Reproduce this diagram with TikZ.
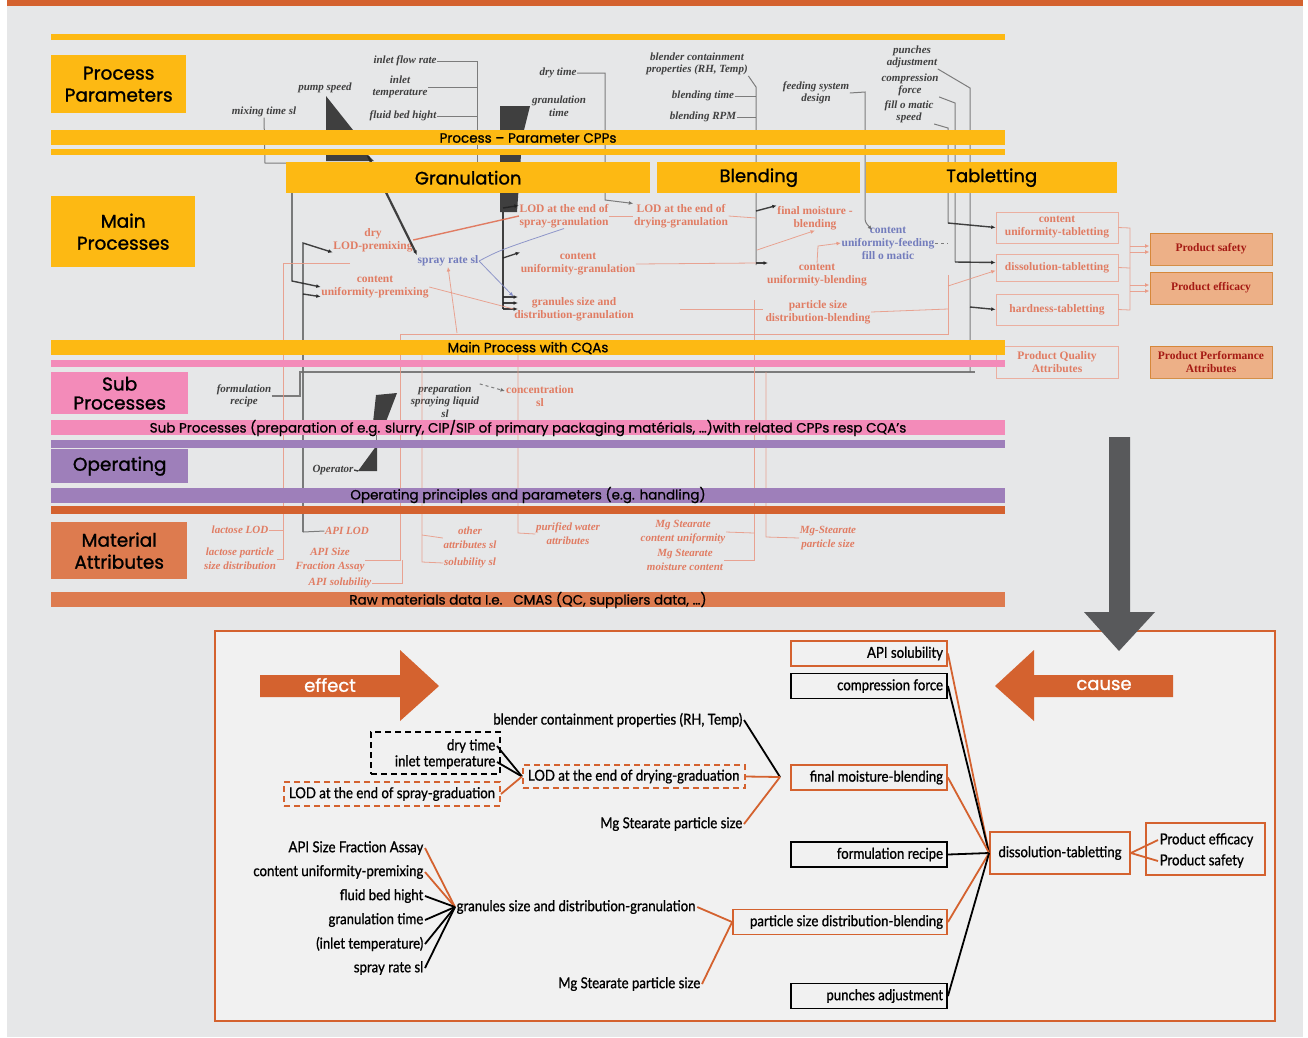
\documentclass[tikz,border=0pt]{standalone}
\usepackage{fontspec}
\setmainfont{Lato}
\newfontfamily\lab[FakeBold=1.2]{Poppins}
\newfontfamily\bandf[FakeBold=0.8]{Poppins}
\newfontfamily\nar[FakeStretch=0.88,FakeBold=1.0]{Lato}
\newfontfamily\scan{Liberation Serif}
\usetikzlibrary{arrows.meta,calc}
\definecolor{pagegray}{HTML}{E6E7E8}
\definecolor{ylw}{HTML}{FDB913}
\definecolor{pnk}{HTML}{F38BB9}
\definecolor{prp}{HTML}{9E7FBA}
\definecolor{orD}{HTML}{D4622F}
\definecolor{orL}{HTML}{DD7B4F}
\definecolor{agray}{HTML}{58595B}
\definecolor{panel}{HTML}{F1F1F1}
\definecolor{sred}{HTML}{E06A4C}
\definecolor{sblue}{HTML}{5F6AB5}
\definecolor{sblk}{HTML}{222222}
\definecolor{sline}{HTML}{6A6A6A}
\definecolor{pfill}{HTML}{EFA777}
\begin{document}
\begin{tikzpicture}[x=1pt,y=-1pt,
  cat/.style={fill=#1, inner sep=0pt, align=center, anchor=north west,
    font=\lab\fontsize{18.5}{22}\selectfont},
  bandtext/.style={inner sep=0pt, font=\bandf\fontsize{13.5}{15}\selectfont},
  st/.style={inner sep=0.5pt, align=center, text=sblk,
    font=\scan\bfseries\itshape\fontsize{11}{12.5}\selectfont},
  sr/.style={inner sep=0.5pt, align=center, text=sred,
    font=\scan\bfseries\fontsize{11.5}{13}\selectfont},
  sri/.style={inner sep=0.5pt, align=center, text=sred,
    font=\scan\bfseries\itshape\fontsize{11}{14}\selectfont},
  sb/.style={sr, text=sblue},
  sbox/.style={sr, draw=sred!60, line width=0.6pt, minimum width=122pt},
  pbox/.style={sr, fill=pfill, draw=brown!70!orange, line width=1pt,
    minimum width=122pt, text=red!60!black},
  sl/.style={draw=sline, line width=1pt},
  slk/.style={draw=sblk, line width=1.4pt},
  srl/.style={draw=sred!70, line width=0.8pt},
  sarr/.style={-{Latex[length=4.5pt,width=4pt]}},
  bt/.style={inner sep=1.5pt, font=\nar\fontsize{15}{17}\selectfont},
  obox/.style={bt, draw=orD, line width=1.8pt, minimum height=25pt,
    inner xsep=4pt, inner ysep=0pt, text width=148pt, align=flush right},
  kbox/.style={obox, draw=black},
  dbox/.style={bt, draw=#1, line width=2pt, dash pattern=on 6pt off 4pt},
  ol/.style={draw=orD, line width=1.8pt},
  kl/.style={draw=black, line width=1.8pt},
  bigarrow/.style={fill=orD},
  arrowtext/.style={text=white, font=\lab\fontsize{18}{20}\selectfont}
]
\useasboundingbox (0,0) rectangle (1308,1037);
\fill[white] (0,0) rectangle (1308,1037);
\fill[pagegray] (7,0) rectangle (1303,1037);
\fill[orD] (7,0) rectangle (1303,6);

% ---------------- process map (scanned flow chart) ----------------
\begin{scope}[opacity=0.85]
% process parameters
\node[st] (sIfr) at (405,61) {inlet flow rate};
\node[st] (sIt) at (400,87) {inlet\\temperature};
\node[st] (sPs) at (325,88) {pump speed};
\node[st] (sMt) at (264,112) {mixing time sl};
\node[st] (sFb) at (403,116) {fluid bed hight};
\node[st] (sDt) at (558,73) {dry time};
\node[st] (sGt) at (559,106) {granulation\\time};
\node[st] (sBc) at (697,64) {blender containment\\properties (RH, Temp)};
\node[st] (sBt) at (703,96) {blending time};
\node[st] (sBr) at (703,117) {blending RPM};
\node[st] (sFs) at (816,93) {feeding system\\design};
\node[st] (sPa) at (912,57) {punches\\adjustment};
\node[st] (sCf) at (910,85) {compression\\force};
\node[st] (sFm) at (909,112) {fill o matic\\speed};

% main process quality attributes
\node[sr] (sDl) at (373,240) {dry\\LOD-premixing};
\node[sr] (sCp) at (375,287) {content\\uniformity-premixing};
\node[sb] (sSr) at (448,261) {spray rate sl};
\node[sr] (sLs) at (564,216) {LOD at the end of\\spray-granulation};
\node[sr] (sLd) at (681,216) {LOD at the end of\\drying-granulation};
\node[sr] (sCg) at (578,264) {content\\uniformity-granulation};
\node[sr] (sGs) at (574,309) {granules size and\\distribution-granulation};
\node[sr] (sFmb) at (815,218) {final moisture -\\blending};
\node[sb] (sCff) at (888,243) {content\\uniformity-feeding\\fill o matic};
\node[sr] (sCb) at (817,275) {content\\uniformity-blending};
\node[sr] (sPb) at (818,312) {particle size\\distribution-blending};
\node[sbox, minimum height=31pt] (tCu) at (1057,227.5) {content\\uniformity-tabletting};
\node[sbox, minimum height=27pt] (tDi) at (1057,267.5) {dissolution-tabletting};
\node[sbox, minimum height=31pt] (tHa) at (1057,309.5) {hardness-tabletting};
\node[sbox, minimum height=32pt] (tPq) at (1057,362) {Product Quality\\Attributes};
\node[pbox, minimum height=32pt] (pSa) at (1211,249) {Product safety};
\node[pbox, minimum height=32pt] (pEf) at (1211,288) {Product efficacy};
\node[pbox, minimum height=32pt] (pPp) at (1211,362) {Product Performance\\Attributes};

% sub processes and operating
\node[st] (sFr) at (244,396) {formulation\\recipe};
\node[st] (sPl) at (445,401) {preparation\\spraying liquid\\sl};
\node[sr] (sCs) at (540,396) {concentration\\sl};
\node[st] (sOp) at (333,470) {Operator};

% material attributes
\node[sri] (mLl) at (240,530) {lactose LOD};
\node[sri] (mLp) at (240,559) {lactose particle\\size distribution};
\node[sri] (mAl) at (347,531) {API LOD};
\node[sri] (mAs) at (330,560) {API Size\\Fraction Assay};
\node[sri] (mAu) at (340,583) {API solubility};
\node[sri] (mOa) at (470,538) {other\\attributes sl};
\node[sri] (mSs) at (470,563) {solubility sl};
\node[sri] (mPw) at (568,534) {purified water\\attributes};
\node[sri] (mMc) at (683,532) {Mg Stearate\\content uniformity};
\node[sri] (mMm) at (685,560) {Mg Stearate\\moisture content};
\node[sri] (mMp) at (828,538) {Mg-Stearate\\particle size};

% parameter traces
\draw[sl] (sIfr.east) -- (477,61) -- (477,165);
\draw[sl] (sIt.east) -- (477,87);
\draw[sl] (sFb.east) -- (477,116);
\draw[sl] (sMt.south) -- (265,163) -- (290,163);
\draw[slk, sarr] (292,190) -- (292,281) -- (sCp.west);
\draw[slk, sarr] (303,532) -- (303,243) -- (sDl.south west);
\draw[slk, sarr] (303,294) -- ($(sCp.south west)+(0,-2)$);
\draw[sl] (303,532) -- (mAl.west);
\fill[sblk] (326,96) -- (353,130) -- (326,130) -- cycle;
\fill[sblk] (326,153) -- (366,153) -- (374,161) -- (326,161) -- cycle;
\draw[draw=sblk, line width=2.2pt, sarr] (368,156) -- (sSr.north west);
\draw[sl, sarr] (sDt.east) -- (605,73) -- (605,200) -- (sLd.north west);
\fill[sblk] (500,106) -- (530,106) -- (524,130) -- (500,130) -- cycle;
\fill[sblk] (500,155) -- (521,155) -- (517,212) -- (500,212) -- cycle;
\draw[slk] (503,212) -- (503,309);
\draw[slk, sarr] (503,208) -- ($(sLs.north west)+(0,2)$);
\draw[slk, sarr] (503,258) -- (sCg.north west);
\draw[slk, sarr] (503,297) -- (518,297);
\draw[slk, sarr] (503,303) -- (518,303);
\draw[slk, sarr] (503,309) -- (518,309);
\draw[sl] (sBc.south east) -- (756,87) -- (756,265);
\draw[sl] (sBt.east) -- (756,96);
\draw[sl] (sBr.east) -- (756,117);
\draw[slk, sarr] (756,211) -- (sFmb.north west);
\draw[slk, sarr] (756,263) -- (768,263);
\draw[sl, sarr] (sFs.east) -- (865,92) -- (865,215) .. controls (865,222) .. (872,230);
\draw[sl] (sPa.south east) -- (970,88) -- (970,372);
\draw[sl] (sCf.south east) -- (955,103) -- (955,262);
\draw[sl] (sFm.south east) -- (948,128) -- (948,223);
\draw[slk, sarr] (948,223) -- (tCu.west);
\draw[slk, sarr] (955,262) -- ($(tDi.west)+(0,-5)$);
\draw[slk, sarr] (970,307) -- (tHa.west);
\draw[sl, line width=2.4pt] (sFr.east) -- (300,396) -- (300,372) -- (975,372);
\draw[sl, dashed, sarr] (sPl.north east) -- (505,391);
\fill[sblk] (376,395) -- (397,393) -- (382,432) -- (372,432) -- cycle;
\draw[sl] (376,432) -- (376,446);
\fill[sblk] (377,445) -- (377,471) -- (358,471) -- cycle;
\draw[slk] (sOp.east) -- (358,471);

% quality attribute traces
\draw[draw=sblue!80, line width=0.8pt] (sSr.east) .. controls (500,250) .. (sLs.south);
\draw[draw=sblue!80, line width=0.8pt, sarr] (sSr.east) -- (sGs.north west);
\draw[draw=sred, line width=1.4pt] (sDl.east) -- (sLs.west);
\draw[srl] (sCp.east) -- (sGs.west);
\draw[srl, sarr] (457,333) -- (sSr.south);
\draw[srl] (sLs.east) -- (sLd.west);
\draw[srl] (sLd.east) -- (756,218);
\draw[srl] (sCg.east) -- (756,263);
\draw[srl, sarr] (757,250) -- (sFmb.south);
\draw[srl, sarr] (sCb.north) -- (818,246) -- (sCff.west);
\draw[draw=sline, dashed, line width=0.7pt] (sCff.east) -- (948,243);
\draw[srl] (sPb.east) -- (948,309);
\draw[srl] (680,309) -- (763,309);
\draw[srl] (350,263) -- (283,263) -- (283,559) -- (mLp.east);
\draw[srl] (mLl.east) -- (283,530);
\draw[srl] (mAs.east) -- (400,560) -- (400,334) -- (948,334) -- (948,275);
\draw[srl, sarr] (948,286) -- ($(tDi.west)+(0,3)$);
\draw[srl] (mAu.east) -- (402,583) -- (402,560);
\draw[srl] (422,340) -- (422,562) -- (mSs.west);
\draw[srl] (422,535) -- (mOa.west);
\draw[srl] (518,345) -- (518,533) -- (mPw.west);
\draw[srl] (754,300) -- (754,560) -- (mMm.east);
\draw[srl] (754,533) -- (mMc.east);
\draw[srl] (766,372) -- (766,537) -- (mMp.west);
\draw[srl] (tCu.east) -- (1130,228) -- (1130,310) -- (tHa.east);
\draw[srl] (tDi.east) -- (1130,268);
\draw[srl, sarr] (1130,246) -- ($(pSa.west)+(0,-3)$);
\draw[srl, sarr] (1130,252) -- ($(pSa.west)+(0,3)$);
\draw[srl, sarr] (1130,285) -- ($(pEf.west)+(0,-3)$);
\draw[srl, sarr] (1130,291) -- ($(pEf.west)+(0,3)$);
\end{scope}

% ---------------- layer bands ----------------
\fill[ylw] (51,34) rectangle (1005,40);
\node[cat=ylw, minimum width=135pt, minimum height=58pt] (pp) at (51,55) {Process\\Parameters};
\fill[ylw] (51,130) rectangle (1005,145);
\node[bandtext] (cpp) at (528,138) {Process – Parameter CPPs};
\fill[ylw] (51,149) rectangle (1005,155);
\node[cat=ylw, minimum width=364pt, minimum height=31pt, font=\lab\fontsize{18}{20}\selectfont] (gran) at (286,162) {Granulation};
\node[cat=ylw, minimum width=203pt, minimum height=31pt, font=\lab\fontsize{18}{20}\selectfont] (blend) at (657,162) {Blending};
\node[cat=ylw, minimum width=251pt, minimum height=31pt, font=\lab\fontsize{18}{20}\selectfont] (tabl) at (866,162) {Tabletting};
\node[cat=ylw, minimum width=144pt, minimum height=71pt] (mp) at (51,196) {Main\\Processes};
\fill[ylw] (51,340) rectangle (1005,355);
\node[bandtext] (cqa) at (528,348) {Main Process with CQAs};
\fill[pnk] (51,360) rectangle (1005,367);
\node[cat=pnk, minimum width=137pt, minimum height=42pt, font=\lab\fontsize{18.5}{19}\selectfont] (sp) at (51,372) {Sub\\Processes};
\fill[pnk] (51,420) rectangle (1005,435);
\node[bandtext] (spt) at (528,428) {Sub Processes (preparation of e.g. slurry, CIP/SIP of primary packaging matérials, …)with related CPPs resp CQA’s};
\fill[prp] (51,440) rectangle (1005,448);
\node[cat=prp, minimum width=137pt, minimum height=34pt] (op) at (51,449) {Operating};
\fill[prp] (51,488) rectangle (1005,503);
\node[bandtext] (opt) at (528,495) {Operating principles and parameters (e.g. handling)};
\fill[orD] (51,506) rectangle (1005,514);
\node[cat=orL, minimum width=136pt, minimum height=57pt] (ma) at (51,522) {Material\\Attributes};
\fill[orL] (51,592) rectangle (1005,607);
\node[bandtext] (raw) at (528,600) {Raw materials data I.e.\ \ \ CMAS (QC, suppliers data, …)};

% ---------------- cause and effect panel ----------------
\draw[orD, line width=2pt, fill=panel] (215,631) rectangle (1275,1021);
\fill[agray] (1109,437) -- (1130,437) -- (1130,612) -- (1155,612) -- (1119,651)
  -- (1084,612) -- (1109,612) -- cycle;

\fill[bigarrow] (260,675) -- (400,675) -- (400,650) -- (439,686) -- (400,721)
  -- (400,697) -- (260,697) -- cycle;
\node[arrowtext] (eff) at (330,685) {effect};
\fill[bigarrow] (1173,675) -- (1034,675) -- (1034,650) -- (995,686) -- (1034,721)
  -- (1034,697) -- (1173,697) -- cycle;
\node[arrowtext] (cau) at (1104,685) {cause};

\node[obox] (api) at (869,653.5) {API solubility};
\node[kbox] (cf) at (869,686) {compression force};
\node[obox] (fm) at (869,777.5) {final moisture-blending};
\node[kbox] (fr) at (869,854.5) {formulation recipe};
\node[kbox] (pa) at (869,996) {punches adjustment};
\node[obox, text width=206pt] (psd) at (840,922) {particle size distribution-blending};
\node[obox, text width=132pt, minimum height=42pt, align=center] (dt) at (1060,853) {dissolution-tabletting};
\node[draw=orD, line width=1.8pt, minimum width=119pt, minimum height=52pt, inner sep=0pt] (prod) at (1205.5,849) {};
\node[bt, anchor=west] (pe) at (1158,840) {Product efficacy};
\node[bt, anchor=west] (ps) at (1158,861) {Product safety};

\node[dbox=black, minimum width=129pt, minimum height=42pt] (dk) at (435.5,753) {};
\node[bt, anchor=east] (dry) at (497,746) {dry time};
\node[bt, anchor=east] (inl) at (497,762) {inlet temperature};
\node[dbox=orD, minimum width=222pt, minimum height=23pt, text width=212pt, inner xsep=5pt, inner ysep=0pt, align=flush left] (lodd) at (634,776.5) {LOD at the end of drying-graduation};
\node[dbox=orD, minimum width=216pt, minimum height=24pt, inner ysep=0pt] (lods) at (392,794) {LOD at the end of spray-graduation};

\node[bt, anchor=east] (bcp) at (744,720) {blender containment properties (RH, Temp)};
\node[bt, anchor=east] (mg1) at (744,824) {Mg Stearate particle size};
\node[bt, anchor=east] (asf) at (425,848) {API Size Fraction Assay};
\node[bt, anchor=east] (cup) at (425,872) {content uniformity-premixing};
\node[bt, anchor=east] (fbh) at (425,896) {fluid bed hight};
\node[bt, anchor=east] (gt) at (425,920) {granulation time};
\node[bt, anchor=east] (it) at (425,944) {(inlet temperature)};
\node[bt, anchor=east] (srs) at (425,968) {spray rate sl};
\node[bt, anchor=west] (gs) at (455,907) {granules size and distribution-granulation};
\node[bt, anchor=east] (mg2) at (702,984) {Mg Stearate particle size};
\coordinate (fmj) at (780,777);

\draw[kl] (bcp.east) -- (fmj);
\draw[ol] (lodd.east) -- (fmj);
\draw[ol] (mg1.east) -- (fmj);
\draw[kl] (dry.east) -- (lodd.west);
\draw[kl] (inl.east) -- (lodd.west);
\draw[ol] (lods.east) -- (lodd.west);
\draw[ol] (asf.east) -- (gs.west);
\draw[ol] (cup.east) -- (gs.west);
\draw[kl] (fbh.east) -- (gs.west);
\draw[kl] (gt.east) -- (gs.west);
\draw[kl] (it.east) -- (gs.west);
\draw[kl] (srs.east) -- (gs.west);
\draw[ol] (gs.east) -- (psd.west);
\draw[ol] (mg2.east) -- (psd.west);
\draw[ol] (api.east) -- (dt.west);
\draw[kl] (cf.east) -- (dt.west);
\draw[ol] (fm.east) -- (dt.west);
\draw[kl] (fr.east) -- (dt.west);
\draw[ol] (psd.east) -- (dt.west);
\draw[kl] (pa.east) -- (dt.west);
\draw[ol] (dt.east) -- (pe.west);
\draw[ol] (dt.east) -- (ps.west);
\end{tikzpicture}
\end{document}
